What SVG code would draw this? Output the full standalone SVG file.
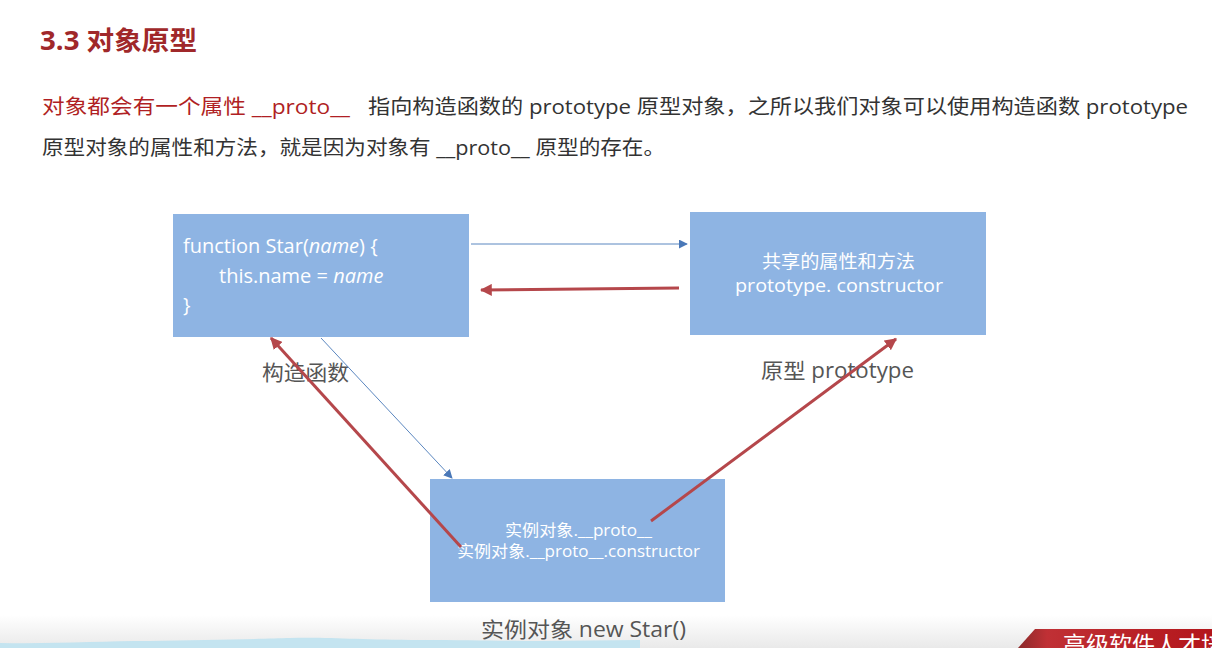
<svg xmlns="http://www.w3.org/2000/svg" width="1212" height="648" viewBox="0 0 1212 648">
  <style>
    .sans { font-family: "Open Sans", "Noto Sans CJK SC", sans-serif; }
    .title { font-size: 26px; font-weight: bold; fill: #a0282a; }
    .para { font-size: 20px; fill: #333333; }
    .red { fill: #b01f24; }
    .box { fill: #8eb4e3; }
    .inbox { fill: #ffffff; }
    .label { font-size: 21px; fill: #555555; }
    .thin { stroke: #5b87c0; stroke-width: 1; fill: none; }
    .thick { stroke: #b5474b; stroke-width: 3; fill: none; }
  </style>
  <defs>
    <marker id="blueHead" viewBox="0 0 10 10" refX="9" refY="5" markerWidth="9" markerHeight="9" markerUnits="userSpaceOnUse" orient="auto">
      <path d="M0,0 L10,5 L0,10 z" fill="#4a78b8"/>
    </marker>
    <marker id="redHead" viewBox="0 0 10 10" refX="9" refY="5" markerWidth="12" markerHeight="12" markerUnits="userSpaceOnUse" orient="auto">
      <path d="M0,0 L10,5 L0,10 z" fill="#b5474b"/>
    </marker>
    <linearGradient id="floor" x1="0" y1="0" x2="0" y2="1">
      <stop offset="0" stop-color="#ffffff"/>
      <stop offset="1" stop-color="#e9e9e9"/>
    </linearGradient>
    <linearGradient id="banner" x1="0" y1="0" x2="1" y2="0">
      <stop offset="0" stop-color="#8a2a2a"/>
      <stop offset="0.15" stop-color="#c03035"/>
      <stop offset="1" stop-color="#b3161b"/>
    </linearGradient>
  </defs>

  <rect width="1212" height="648" fill="#ffffff"/>
  <rect x="0" y="615" width="1212" height="33" fill="url(#floor)"/>
  <path d="M0,643 C60,644 100,641 150,641 C200,640 260,639 290,638 C330,637 360,640 420,640 C470,640 500,641 540,641 L640,640 L640,648 L0,648 z" fill="#c4e4f0"/>

  <!-- heading and intro text -->
  <text class="sans title" x="40" y="50" textLength="157" lengthAdjust="spacingAndGlyphs">3.3 对象原型</text>
  <text class="sans para" y="114">
    <tspan class="red" x="42" textLength="308" lengthAdjust="spacingAndGlyphs">对象都会有一个属性 __proto__</tspan>
    <tspan x="368" textLength="820" lengthAdjust="spacingAndGlyphs">指向构造函数的 prototype 原型对象，之所以我们对象可以使用构造函数 prototype</tspan>
  </text>
  <text class="sans para" x="42" y="155" textLength="623" lengthAdjust="spacingAndGlyphs">原型对象的属性和方法，就是因为对象有 __proto__ 原型的存在。</text>

  <!-- constructor node -->
  <g id="constructor">
    <rect class="box" x="173" y="214" width="296" height="123"/>
    <text class="sans inbox" font-size="20" x="183" y="253">function Star(<tspan font-style="italic">name</tspan>) {</text>
    <text class="sans inbox" font-size="20" x="219" y="283">this.name = <tspan font-style="italic">name</tspan></text>
    <text class="sans inbox" font-size="20" x="183" y="312">}</text>
    <text class="sans label" x="262" y="380" textLength="87" lengthAdjust="spacingAndGlyphs">构造函数</text>
  </g>

  <!-- prototype node -->
  <g id="prototype">
    <rect class="box" x="690" y="212" width="296" height="123"/>
    <text class="sans inbox" font-size="18" x="762" y="268" textLength="153" lengthAdjust="spacingAndGlyphs">共享的属性和方法</text>
    <text class="sans inbox" font-size="19" x="735" y="292" textLength="208" lengthAdjust="spacingAndGlyphs">prototype. constructor</text>
    <text class="sans label" x="761" y="378" textLength="153" lengthAdjust="spacingAndGlyphs">原型 prototype</text>
  </g>

  <!-- instance node -->
  <g id="instance">
    <rect class="box" x="430" y="479" width="295" height="123"/>
    <text class="sans inbox" font-size="16" x="505" y="536" textLength="147" lengthAdjust="spacingAndGlyphs">实例对象.__proto__</text>
    <text class="sans inbox" font-size="16" x="457" y="557" textLength="243" lengthAdjust="spacingAndGlyphs">实例对象.__proto__.constructor</text>
    <text class="sans label" x="481" y="637" textLength="205" lengthAdjust="spacingAndGlyphs">实例对象 new Star()</text>
  </g>

  <!-- connectors -->
  <g id="connectors">
    <line class="thin" x1="471" y1="244" x2="687" y2="244" marker-end="url(#blueHead)"/>
    <line class="thick" x1="679" y1="288" x2="481" y2="290" marker-end="url(#redHead)"/>
    <line class="thin" x1="321" y1="338" x2="452" y2="478" marker-end="url(#blueHead)"/>
    <line class="thick" x1="461" y1="547" x2="271" y2="338" marker-end="url(#redHead)"/>
    <line class="thick" x1="651" y1="521" x2="896" y2="339" marker-end="url(#redHead)"/>
  </g>

  <!-- footer banner -->
  <path d="M1018,648 L1035,629 L1212,629 L1212,648 z" fill="url(#banner)"/>
  <text x="1063" y="653" font-size="23" fill="#ffffff" font-family="Noto Sans CJK SC, sans-serif">高级软件人才培</text>
</svg>
